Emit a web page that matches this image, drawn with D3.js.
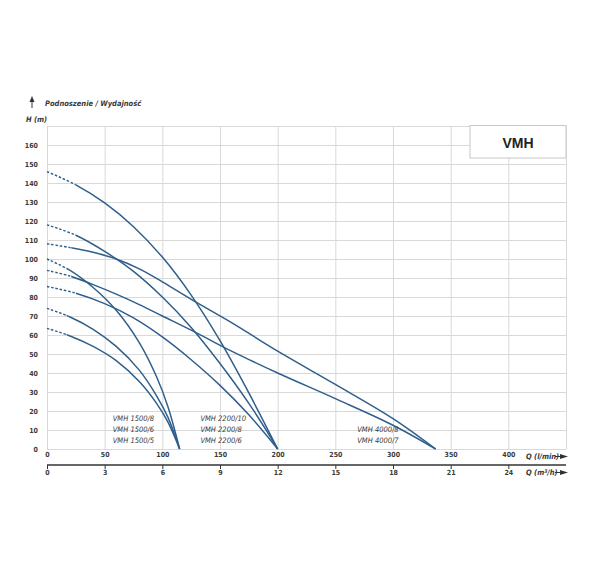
<!DOCTYPE html>
<html>
<head>
<meta charset="utf-8">
<script src="https://cdn.jsdelivr.net/npm/d3@7"></script>
<style>
  body { margin: 0; background: #fff; }
  svg text { font-family: "Liberation Sans Narrow", "DejaVu Sans Condensed", "DejaVu Sans", sans-serif; font-stretch: condensed; }
  svg text.big { font-family: "Liberation Sans", Arial, sans-serif; font-stretch: normal; }
</style>
</head>
<body>
<svg id="chart" width="600" height="574"></svg>
<script>
// flow points (l/min) and head (m)
const q1500 = [0, 20, 40, 60, 80, 95, 105, 115];
const h1500_8 = [100, 94, 85, 73, 56, 38, 22, 0];
const h1500_6 = [74, 69.5, 63, 54, 41.5, 28, 16.5, 0];
const h1500_5 = [63.5, 59.5, 54, 46.5, 35.5, 24, 14, 0];

const q2200 = [0, 25, 50, 75, 100, 125, 150, 175, 200];
const h2200_10 = [146, 139, 129.5, 117, 101, 81, 57, 29.5, 0];
const h2200_8 = [118, 112.5, 104, 93.5, 80, 64, 45, 24, 0];
const h2200_6 = [85.5, 82, 76.5, 69, 59, 47, 33.5, 18, 0];

const q4000 = [0, 20, 40, 60, 80, 100, 130, 160, 200, 250, 300, 337];
const h4000_8 = [108, 106, 103.5, 100, 94.8, 88, 77, 66.5, 51.5, 34, 16, 0];
const h4000_7 = [94, 91, 86.5, 81.5, 76, 70, 61, 51.5, 40, 26.5, 12.5, 0];

// where the dashed start of each curve ends (l/min)
const dash1500 = 17, dash2200 = 25, dash4000 = 21;

const labels1500 = ["VMH 1500/8", "VMH 1500/6", "VMH 1500/5"];
const labels2200 = ["VMH 2200/10", "VMH 2200/8", "VMH 2200/6"];
const labels4000 = ["VMH 4000/8", "VMH 4000/7"];

const qTicks = [0, 50, 100, 150, 200, 250, 300, 350, 400];
const m3Ticks = [0, 3, 6, 9, 12, 15, 18, 21, 24];
const hTicks = [0, 10, 20, 30, 40, 50, 60, 70, 80, 90, 100, 110, 120, 130, 140, 150, 160];

const curves = [
  { q: q1500, h: h1500_8, dash: dash1500 },
  { q: q1500, h: h1500_6, dash: dash1500 },
  { q: q1500, h: h1500_5, dash: dash1500 },
  { q: q2200, h: h2200_10, dash: dash2200 },
  { q: q2200, h: h2200_8, dash: dash2200 },
  { q: q2200, h: h2200_6, dash: dash2200 },
  { q: q4000, h: h4000_8, dash: dash4000 },
  { q: q4000, h: h4000_7, dash: dash4000 }
];

let margin = { left: 47, top: 126, right: 566, bottom: 449 };
let x = d3.scaleLinear().domain([0, 450]).range([margin.left, margin.right]);
let y = d3.scaleLinear().domain([0, 170]).range([margin.bottom, margin.top]);

let svg = d3.select("#chart");
const blue = "#2f5f8c";
const textCol = "#3a3a3a";

// grid
svg.append("g")
  .attr("transform", "translate(0," + margin.bottom + ")")
  .call(d3.axisBottom(x).tickValues(d3.range(0, 451, 50)).tickSize(-(margin.bottom - margin.top)).tickFormat(""))
  .call(g => g.select(".domain").remove())
  .selectAll("line").attr("stroke", "#d9d9d9");
svg.append("g")
  .attr("transform", "translate(" + margin.left + ",0)")
  .call(d3.axisLeft(y).tickValues(d3.range(0, 171, 10)).tickSize(-(margin.right - margin.left)).tickFormat(""))
  .call(g => g.select(".domain").remove())
  .selectAll("line").attr("stroke", "#d9d9d9");

// y tick labels
svg.append("g")
  .attr("transform", "translate(38,0)")
  .call(d3.axisLeft(y).tickValues(hTicks).tickSize(0).tickPadding(0))
  .call(g => g.select(".domain").remove())
  .selectAll("text")
  .attr("font-size", 7)
  .attr("font-weight", "bold")
  .attr("fill", textCol);

// x tick labels (l/min)
svg.append("g")
  .attr("transform", "translate(0,452)")
  .call(d3.axisBottom(x).tickValues(qTicks).tickSize(0).tickPadding(0))
  .call(g => g.select(".domain").remove())
  .selectAll("text")
  .attr("font-size", 7)
  .attr("font-weight", "bold")
  .attr("fill", textCol);

// second axis (m3/h)
let axis2 = svg.append("g")
  .attr("transform", "translate(0,465)")
  .call(d3.axisBottom(x).tickValues(qTicks).tickSize(4).tickPadding(1)
    .tickFormat((d, i) => m3Ticks[i]));
axis2.select(".domain").attr("d", "M" + margin.left + ",0H" + margin.right).attr("stroke", "#333").attr("stroke-width", 1.3);
axis2.selectAll("line").attr("stroke", "#333");
axis2.selectAll("text")
  .attr("font-size", 7)
  .attr("font-weight", "bold")
  .attr("fill", textCol);

// axis titles with arrows
const axisTitle = (txt, ty) => {
  svg.append("text")
    .attr("x", 526).attr("y", ty)
    .attr("font-size", 7.5).attr("font-style", "italic").attr("font-weight", "bold")
    .attr("fill", textCol)
    .html(txt);
  svg.append("line")
    .attr("x1", 555).attr("x2", 562).attr("y1", ty - 2.5).attr("y2", ty - 2.5)
    .attr("stroke", "#333").attr("stroke-width", 1);
  svg.append("path")
    .attr("d", `M560,${ty - 5}L568,${ty - 2.5}L560,${ty}Z`)
    .attr("fill", "#333");
};
axisTitle("Q (l/min)", 459);
axisTitle("Q (m<tspan font-size='5' dy='-2.5'>3</tspan><tspan dy='2.5'>/h)</tspan>", 475);

// top-left titles
svg.append("line").attr("x1", 32).attr("x2", 32).attr("y1", 100).attr("y2", 108)
  .attr("stroke", "#333").attr("stroke-width", 1);
svg.append("path").attr("d", "M29.5,102L32,96L34.5,102Z").attr("fill", "#333");
svg.append("text").attr("x", 45).attr("y", 106)
  .attr("font-size", 7.5).attr("font-style", "italic").attr("font-weight", "bold").attr("fill", textCol)
  .text("Podnoszenie / Wydajność");
svg.append("text").attr("x", 26).attr("y", 122)
  .attr("font-size", 7.5).attr("font-style", "italic").attr("font-weight", "bold").attr("fill", textCol)
  .text("H (m)");

// VMH box
svg.append("rect").attr("x", 470).attr("y", 125.5).attr("width", 96).attr("height", 32.5)
  .attr("fill", "#fff").attr("stroke", "#c8c8c8").attr("stroke-width", 1);
svg.append("text").attr("class", "big").attr("x", 518).attr("y", 147.5).attr("text-anchor", "middle")
  .attr("font-size", 14).attr("font-weight", "bold").attr("fill", "#222")
  .text("VMH");

// curves
let line = d3.line()
  .x(d => x(d[0]))
  .y(d => y(d[1]))
  .curve(d3.curveCatmullRom.alpha(0.5));

let defs = svg.append("defs");
curves.forEach((c, i) => {
  let pts = c.q.map((q, j) => [q, c.h[j]]);
  defs.append("clipPath").attr("id", "dashed" + i)
    .append("rect").attr("x", 0).attr("y", 0).attr("width", x(c.dash)).attr("height", 574);
  defs.append("clipPath").attr("id", "solid" + i)
    .append("rect").attr("x", x(c.dash)).attr("y", 0).attr("width", 600).attr("height", 574);
  svg.append("path").datum(pts)
    .attr("d", line).attr("fill", "none")
    .attr("stroke", blue).attr("stroke-width", 1.4)
    .attr("stroke-dasharray", "2.5,1.8")
    .attr("clip-path", "url(#dashed" + i + ")");
  svg.append("path").datum(pts)
    .attr("d", line).attr("fill", "none")
    .attr("stroke", blue).attr("stroke-width", 1.5)
    .attr("clip-path", "url(#solid" + i + ")");
});

// curve labels
const curveLabels = (names, qStart, offsets) => {
  names.forEach((n, i) => {
    svg.append("text")
      .attr("x", x(qStart)).attr("y", y(0) - offsets[i])
      .attr("font-size", 7.5).attr("font-style", "italic").attr("fill", textCol)
      .text(n);
  });
};
curveLabels(labels1500, 57, [28, 17, 6.5]);
curveLabels(labels2200, 133, [28, 17, 6.5]);
curveLabels(labels4000, 269, [17, 6.5]);
</script>
</body>
</html>
